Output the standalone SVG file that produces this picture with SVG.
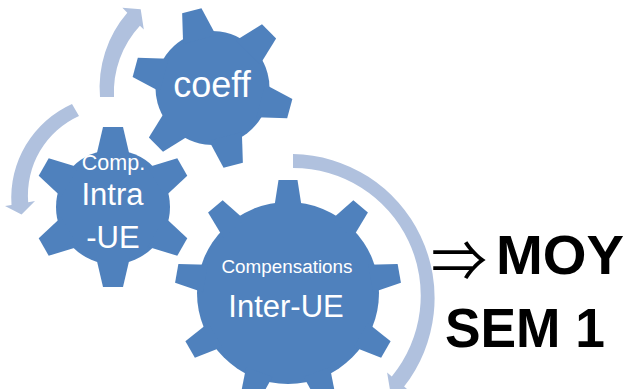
<svg xmlns="http://www.w3.org/2000/svg" xmlns:xlink="http://www.w3.org/1999/xlink" width="625" height="389" viewBox="0 0 625 389">
<style>
.gear{fill:#4F81BD}
.arr{fill:#B0C1DE}
.wt{fill:#FFFFFF;font-family:"Liberation Sans",Arial,sans-serif;text-anchor:middle}
.bk{fill:#000000;font-family:"Liberation Sans",Arial,sans-serif;font-weight:bold}
.sym{fill:#000000;font-family:"Noto Sans CJK JP","DejaVu Sans",sans-serif}
</style>
<defs>
<polygon id="t6" points="-17,-50 17,-50 10,-80 -10,-80"/>
<g id="g6">
<circle r="57"/>
<use href="#t6"/><use href="#t6" transform="rotate(60)"/><use href="#t6" transform="rotate(120)"/>
<use href="#t6" transform="rotate(180)"/><use href="#t6" transform="rotate(240)"/><use href="#t6" transform="rotate(300)"/>
</g>
<polygon id="t9" points="-14,-84 14,-84 9.5,-113 -9.5,-113"/>
<g id="g9">
<circle r="91"/>
<use href="#t9"/><use href="#t9" transform="rotate(40)"/><use href="#t9" transform="rotate(80)"/>
<use href="#t9" transform="rotate(120)"/><use href="#t9" transform="rotate(160)"/><use href="#t9" transform="rotate(200)"/>
<use href="#t9" transform="rotate(240)"/><use href="#t9" transform="rotate(280)"/><use href="#t9" transform="rotate(320)"/>
</g>
</defs>
<g id="connectors">
<path class="arr" d="M 100 97 A 114 114 0 0 1 127.3 12.8 L 122.4 7.8 L 140.7 9.3 L 143.8 29.6 L 139.9 25.7 A 98 98 0 0 0 114 97 Z"/>
<path class="arr" d="M 72 103.9 A 103 103 0 0 0 11.5 205 L 5 206 L 21.5 214.5 L 35 201 L 28.2 202.2 A 87 87 0 0 1 79 116 Z"/>
<path class="arr" d="M 293 154 A 144 144 0 0 1 404.1 386.6 L 411.8 393 L 390.6 393.6 L 387.1 372.6 L 391.8 376.4 A 127.5 127.5 0 0 0 293 168 Z"/>
</g>
<g id="coeff">
<use href="#g6" class="gear" transform="translate(212.5,88) rotate(-15)"/>
<text class="wt" x="212" y="97" font-size="36">coeff</text>
</g>
<g id="intra">
<use href="#g6" class="gear" transform="translate(113,207)"/>
<text class="wt" x="113.5" y="170" font-size="21.5">Comp.</text>
<text class="wt" x="112.5" y="205" font-size="31">Intra</text>
<text class="wt" x="113" y="248" font-size="31">-UE</text>
</g>
<g id="inter">
<use href="#g9" class="gear" transform="translate(288,293)"/>
<text class="wt" x="287" y="273" font-size="18" textLength="131" lengthAdjust="spacingAndGlyphs">Compensations</text>
<text class="wt" x="286" y="317" font-size="31">Inter-UE</text>
</g>
<g id="result">
<text class="sym" x="431" y="281" font-size="56">⇒</text>
<text class="bk" x="496" y="274" font-size="56" textLength="128" lengthAdjust="spacingAndGlyphs">MOY</text>
<text class="bk" x="445" y="347" font-size="56" textLength="160" lengthAdjust="spacingAndGlyphs">SEM 1</text>
</g>
</svg>
